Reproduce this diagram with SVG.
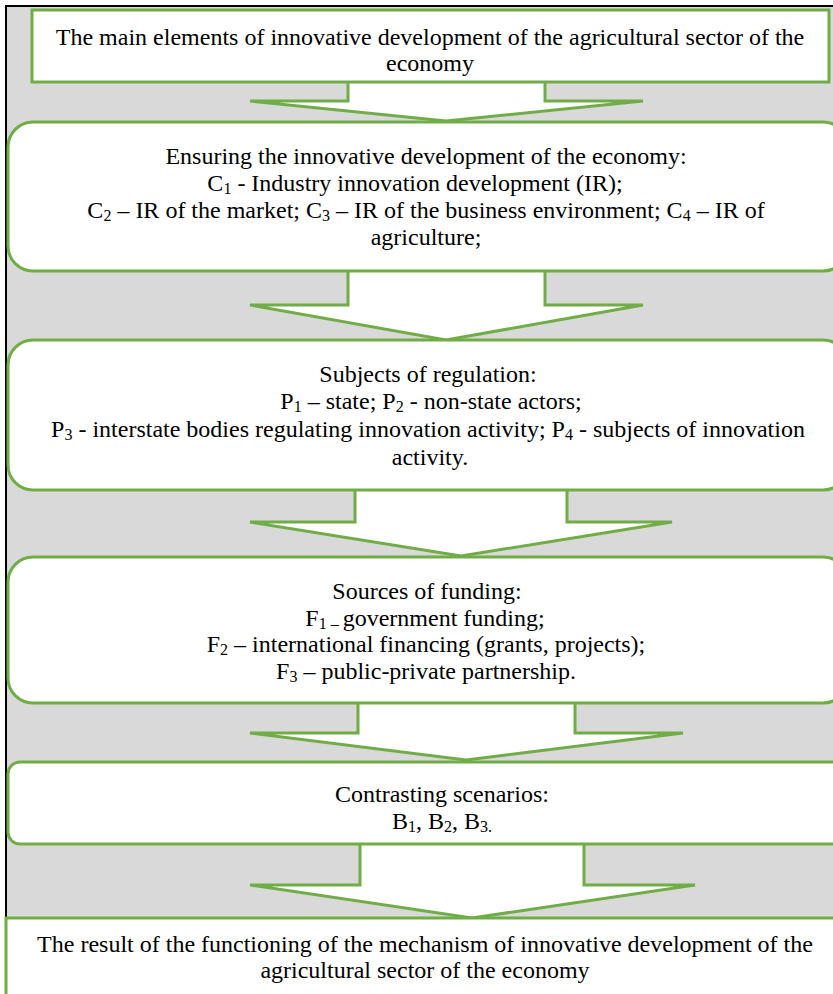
<svg xmlns="http://www.w3.org/2000/svg" width="833" height="994" viewBox="0 0 833 994">
<style>
.bg{fill:#d9d9d9;stroke:#000;stroke-width:2}
.box{fill:#fff;stroke:#70ad47;stroke-width:3}
.arr{fill:#fff;stroke:#70ad47;stroke-width:3;stroke-linejoin:miter}
text{font-family:"Liberation Serif","Times New Roman",serif;font-size:24px;fill:#000;text-anchor:middle}
.s{font-size:16px}
</style>
<rect class="bg" x="6" y="6" width="840" height="1000"/>
<g id="connectors">
<path class="arr" d="M348,82 V101 H250 L446,121 L643,101 H545 V82"/>
<path class="arr" d="M348,271 V305 H250 L446,340 L643,305 H545 V271"/>
<path class="arr" d="M355,490 V522 H250 L461,556 L672,522 H567 V490"/>
<path class="arr" d="M358,703 V733 H250 L466,760 L683,733 H575 V703"/>
<path class="arr" d="M360,844 V885 H250 L472,918 L695,885 H584 V844"/>
</g>
<g id="n1">
<rect class="box" x="32" y="10" width="797" height="72"/>
<text x="430" y="45">The main elements of innovative development of the agricultural sector of the</text>
<text x="430" y="71">economy</text>
</g>
<g id="n2">
<rect class="box" x="8" y="122" width="840" height="149" rx="25"/>
<text x="426" y="164">Ensuring the innovative development of the economy:</text>
<text x="415" y="191">C<tspan class="s" dy="3">1</tspan><tspan dy="-3"> - Industry innovation development (IR);</tspan></text>
<text x="426" y="218">C<tspan class="s" dy="3">2</tspan><tspan dy="-3"> – IR of the market; C</tspan><tspan class="s" dy="3">3</tspan><tspan dy="-3"> – IR of the business environment; C</tspan><tspan class="s" dy="3">4</tspan><tspan dy="-3"> – IR of</tspan></text>
<text x="426" y="245">agriculture;</text>
</g>
<g id="n3">
<rect class="box" x="8" y="340" width="840" height="150" rx="25"/>
<text x="428" y="382">Subjects of regulation:</text>
<text x="431" y="409">P<tspan class="s" dy="3">1</tspan><tspan dy="-3"> – state; P</tspan><tspan class="s" dy="3">2</tspan><tspan dy="-3"> - non-state actors;</tspan></text>
<text x="428" y="437">P<tspan class="s" dy="3">3</tspan><tspan dy="-3"> - interstate bodies regulating innovation activity; P</tspan><tspan class="s" dy="3">4</tspan><tspan dy="-3"> - subjects of innovation</tspan></text>
<text x="430" y="465">activity.</text>
</g>
<g id="n4">
<rect class="box" x="8" y="557" width="840" height="146" rx="25"/>
<text x="427" y="599">Sources of funding:</text>
<text x="425" y="626">F<tspan class="s" dy="3">1 – </tspan><tspan dy="-3">government funding;</tspan></text>
<text x="426" y="652">F<tspan class="s" dy="3">2</tspan><tspan dy="-3"> – international financing (grants, projects);</tspan></text>
<text x="426" y="679">F<tspan class="s" dy="3">3</tspan><tspan dy="-3"> – public-private partnership.</tspan></text>
</g>
<g id="n5">
<rect class="box" x="8" y="762" width="840" height="82" rx="12"/>
<text x="442" y="802">Contrasting scenarios:</text>
<text x="442" y="829">B<tspan class="s" dy="3">1</tspan><tspan dy="-3">, B</tspan><tspan class="s" dy="3">2</tspan><tspan dy="-3">, B</tspan><tspan class="s" dy="3">3.</tspan></text>
</g>
<g id="n6">
<rect class="box" x="6" y="918" width="840" height="90"/>
<text x="425" y="952">The result of the functioning of the mechanism of innovative development of the</text>
<text x="425" y="978">agricultural sector of the economy</text>
</g>
</svg>
